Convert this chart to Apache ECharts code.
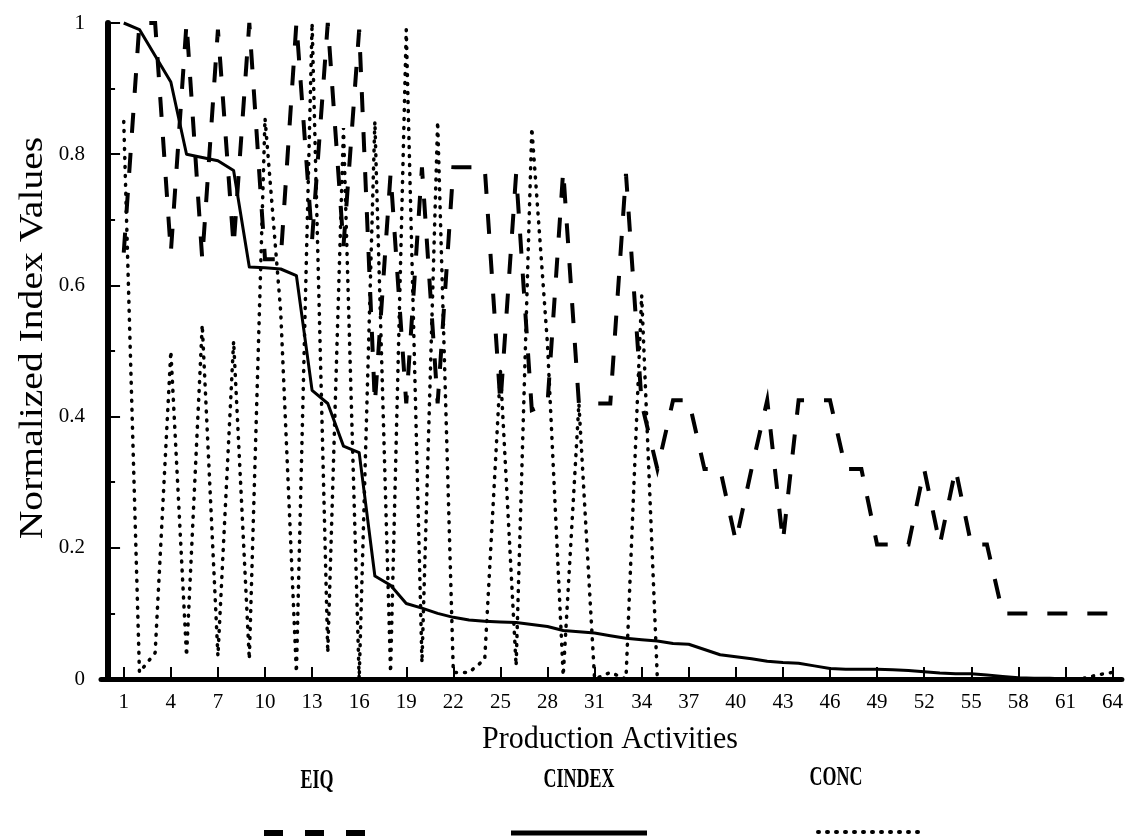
<!DOCTYPE html>
<html>
<head>
<meta charset="utf-8">
<script src="https://cdn.jsdelivr.net/npm/echarts@6/dist/echarts.min.js"></script>
<style>
  html, body { margin: 0; padding: 0; background: #ffffff; }
  #chart { width: 1126px; height: 838px; }
</style>
</head>
<body>
<div id="chart"></div>
<script>
// Production activities (x positions) and tick labels
const activities = [1, 2, 3, 4, 5, 6, 7, 8, 9, 10, 11, 12, 13, 14, 15, 16,
  17, 18, 19, 20, 21, 22, 23, 24, 25, 26, 27, 28, 29, 30, 31, 32,
  33, 34, 35, 36, 37, 38, 39, 40, 41, 42, 43, 44, 45, 46, 47, 48,
  49, 50, 51, 52, 53, 54, 55, 56, 57, 58, 59, 60, 61, 62, 63, 64];
const xTickValues = [1, 4, 7, 10, 13, 16, 19, 22, 25, 28, 31, 34, 37, 40, 43, 46, 49, 52, 55, 58, 61, 64];

// Normalized index values per activity
const eiq = [0.65, 1.0, 1.0, 0.65, 1.0, 0.64, 0.99, 0.66, 1.0, 0.64, 0.64, 1.0, 0.67, 1.0, 0.66, 0.99,
  0.42, 0.77, 0.42, 0.78, 0.42, 0.78, 0.78, 0.78, 0.42, 0.77, 0.41, 0.42, 0.775, 0.42, 0.42, 0.42,
  0.77, 0.42, 0.32, 0.425, 0.425, 0.32, 0.32, 0.21, 0.32, 0.425, 0.21, 0.425, 0.425, 0.425, 0.32, 0.32,
  0.205, 0.205, 0.205, 0.32, 0.205, 0.32, 0.205, 0.205, 0.1, 0.1, 0.1, 0.1, 0.1, 0.1, 0.1, 0.1];

const cindex = [1.0, 0.99, 0.95, 0.91, 0.80, 0.795, 0.79, 0.775, 0.628, 0.627, 0.625, 0.615, 0.44, 0.42, 0.355, 0.345,
  0.157, 0.143, 0.115, 0.108, 0.1, 0.094, 0.09, 0.088, 0.087, 0.086, 0.083, 0.08, 0.074, 0.072, 0.07, 0.066,
  0.062, 0.06, 0.058, 0.054, 0.053, 0.045, 0.037, 0.034, 0.031, 0.027, 0.025, 0.024, 0.02, 0.016, 0.015, 0.015,
  0.015, 0.014, 0.013, 0.011, 0.009, 0.008, 0.008, 0.006, 0.004, 0.002, 0.001, 0.001, 0, 0, 0, 0];

const conc = [0.85, 0.01, 0.04, 0.5, 0.035, 0.54, 0.035, 0.515, 0.03, 0.855, 0.56, 0.01, 1.0, 0.04, 0.84, 0.0,
  0.85, 0.01, 0.99, 0.025, 0.85, 0.01, 0.01, 0.03, 0.47, 0.02, 0.84, 0.51, 0.005, 0.42, 0.0, 0.01,
  0.0, 0.585, 0.0, 0, 0, 0, 0, 0, 0, 0, 0, 0, 0, 0, 0, 0,
  0, 0, 0, 0, 0, 0, 0, 0, 0, 0, 0, 0, 0, 0, 0.006, 0.01];

const seriesNames = ['EIQ', 'CINDEX', 'CONC'];
const xTitle = 'Production Activities';
const yTitle = 'Normalized Index Values';

const FONT = 'Liberation Serif';
const INK = '#000000';

function pairs(values) {
  return activities.map((a, i) => [a, values[i]]);
}

const chart = echarts.init(document.getElementById('chart'), null, { renderer: 'canvas' });

const dashEIQ = [20, 20];
const dotCONC = [1, 8];

// tall, narrow lettering: text is drawn with a vertical stretch
function label(text, x, y, size, weight, stretch) {
  return {
    type: 'text', x: x, y: y, scaleY: stretch,
    style: {
      text: text, font: weight + ' ' + size + 'px "' + FONT + '"', fill: INK,
      textAlign: 'center', textVerticalAlign: 'middle'
    }
  };
}

chart.setOption({
  backgroundColor: '#ffffff',
  animation: false,
  grid: { left: 101, top: 23, width: 1021, height: 656, containLabel: false },
  xAxis: {
    type: 'value',
    min: -0.45,
    max: 64.6,
    axisLine: { show: true, onZero: false, lineStyle: { color: INK, width: 5 } },
    axisTick: { show: true, inside: true, length: 12, lineStyle: { color: INK, width: 2 }, customValues: xTickValues },
    axisLabel: { fontFamily: FONT, fontSize: 21, color: INK, margin: 13, customValues: xTickValues },
    splitLine: { show: false }
  },
  yAxis: {
    type: 'value',
    min: 0,
    max: 1,
    interval: 0.2,
    axisLine: { show: true, lineStyle: { color: INK, width: 6 } },
    axisTick: { show: true, inside: true, length: 12, lineStyle: { color: INK, width: 2 } },
    minorTick: { show: true, splitNumber: 2, length: 7, lineStyle: { color: INK, width: 2 } },
    axisLabel: { fontFamily: FONT, fontSize: 21, color: INK, margin: 16 },
    splitLine: { show: false },
    minorSplitLine: { show: false }
  },
  series: [
    {
      name: seriesNames[0], type: 'line', data: pairs(eiq), symbol: 'none', clip: false,
      lineStyle: { color: INK, width: 4, type: dashEIQ, cap: 'butt', join: 'miter' }, z: 3
    },
    {
      name: seriesNames[1], type: 'line', data: pairs(cindex), symbol: 'none', clip: false,
      lineStyle: { color: INK, width: 3, type: 'solid', join: 'round' }, z: 4
    },
    {
      name: seriesNames[2], type: 'line', data: pairs(conc), symbol: 'none', clip: false,
      lineStyle: { color: INK, width: 3.5, type: dotCONC, cap: 'round' }, z: 2
    }
  ],
  graphic: [
    // axis titles
    {
      type: 'text', x: 33, y: 338, rotation: Math.PI / 2, scaleX: 1.2,
      style: {
        text: yTitle, font: '33px "' + FONT + '"', fill: INK,
        textAlign: 'center', textVerticalAlign: 'middle'
      }
    },
    label(xTitle, 610, 740, 30, 'normal', 1.05),
    // legend: label above a sample of each line style
    label(seriesNames[0], 317, 781, 18, 'bold', 1.55),
    { type: 'line', shape: { x1: 264, y1: 833, x2: 366, y2: 833 },
      style: { stroke: INK, lineWidth: 6, lineDash: [19, 22], lineCap: 'butt' } },
    label(seriesNames[1], 579, 780, 18, 'bold', 1.55),
    { type: 'line', shape: { x1: 511, y1: 833, x2: 647, y2: 833 },
      style: { stroke: INK, lineWidth: 5 } },
    label(seriesNames[2], 836, 778, 18, 'bold', 1.55),
    { type: 'line', shape: { x1: 818, y1: 832, x2: 926, y2: 832 },
      style: { stroke: INK, lineWidth: 4, lineDash: [1, 8], lineCap: 'round' } }
  ]
});
</script>
</body>
</html>
